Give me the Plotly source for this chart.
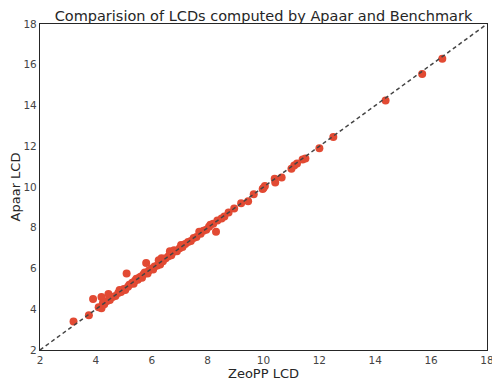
import plotly.graph_objects as go

zeopp_lcd = [3.2, 3.75, 3.9, 4.1, 4.2, 4.2, 4.25, 4.3, 4.45, 4.4, 4.5, 4.6, 4.7, 4.8, 4.85, 4.9,
             5.0, 5.05, 5.1, 5.15, 5.2, 5.3, 5.35, 5.4, 5.45, 5.5, 5.55, 5.6, 5.65, 5.7, 5.75,
             5.8, 5.85, 5.9, 6.0, 6.05, 6.1, 6.2, 6.25, 6.3, 6.35, 6.4, 6.5, 6.6, 6.65, 6.7,
             6.75, 6.8, 6.9, 7.0, 7.05, 7.1, 7.2, 7.3, 7.4, 7.5, 7.6, 7.7, 7.75, 7.85, 7.95,
             8.05, 8.1, 8.2, 8.3, 8.35, 8.5, 8.6, 8.75, 8.95, 9.2, 9.45, 9.65, 9.97, 10.05,
             10.0, 10.4, 10.42, 10.65, 11.0, 11.1, 11.2, 11.4, 11.5, 12.0, 12.5, 14.37,
             15.68, 16.4]
apaar_lcd = [3.4, 3.7, 4.5, 4.1, 4.05, 4.6, 4.3, 4.25, 4.75, 4.4, 4.45, 4.6, 4.65, 4.8, 4.95, 4.85,
             5.0, 4.95, 5.75, 5.1, 5.2, 5.3, 5.25, 5.4, 5.5, 5.45, 5.55, 5.6, 5.55, 5.7, 5.8,
             6.27, 5.75, 5.9, 6.0, 5.95, 6.1, 6.15, 6.4, 6.2, 6.5, 6.35, 6.5, 6.6, 6.85, 6.65,
             6.8, 6.9, 6.85, 7.0, 7.15, 7.05, 7.2, 7.3, 7.35, 7.5, 7.55, 7.8, 7.7, 7.85, 7.9,
             8.05, 8.15, 8.2, 7.8, 8.35, 8.45, 8.55, 8.75, 8.95, 9.2, 9.3, 9.65, 9.9, 10.05,
             9.95, 10.4, 10.22, 10.47, 10.9, 11.05, 11.15, 11.35, 11.4, 11.9, 12.45, 14.25,
             15.55, 16.3]
diag = [2, 18]
ticks = [2, 4, 6, 8, 10, 12, 14, 16, 18]

fig = go.Figure()
fig.add_trace(go.Scatter(x=zeopp_lcd, y=apaar_lcd, mode="markers",
                         marker=dict(color="#E24A33", size=8, line=dict(width=0)),
                         showlegend=False))
fig.add_trace(go.Scatter(x=diag, y=diag, mode="lines",
                         line=dict(color="#444444", width=1.5, dash="4px,3px"),
                         showlegend=False))

font = "DejaVu Sans, sans-serif"
# page body adds an 8px margin, so the figure is 8px smaller and margins shifted
fig.update_layout(
    width=492, height=380,
    margin=dict(l=32, r=13, t=16, b=38, autoexpand=False),
    paper_bgcolor="white", plot_bgcolor="white",
    font=dict(family=font, color="#262626"),
    title=dict(text="Comparision of LCDs computed by Apaar and Benchmark",
               x=0.5, xref="paper", xanchor="center",
               y=1 - 7.5 / 380, yref="container", yanchor="middle",
               font=dict(size=14.5, color="#262626")),
    xaxis=dict(range=[2, 18], tickvals=ticks, showgrid=False, zeroline=False,
               showline=True, linecolor="#262626", linewidth=1.3, mirror=True,
               ticks="", automargin=False, tickfont=dict(size=10.5, color="#444444"),
               title=dict(text="ZeoPP LCD", font=dict(size=13), standoff=3)),
    yaxis=dict(range=[2, 18], tickvals=ticks, showgrid=False, zeroline=False,
               showline=True, linecolor="#262626", linewidth=1.3, mirror=True,
               ticks="", automargin=False, tickfont=dict(size=10.5, color="#444444"),
               title=dict(text="Apaar LCD", font=dict(size=13), standoff=4)),
)
fig.write_html("out.html")
